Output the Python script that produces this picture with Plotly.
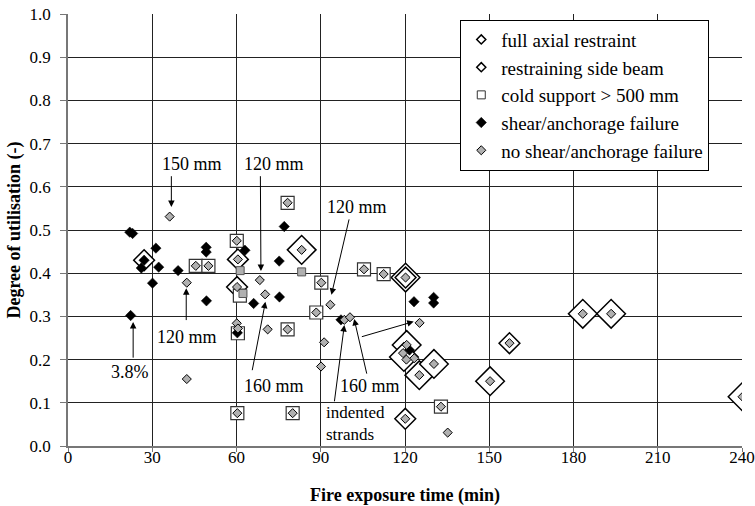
import plotly.graph_objects as go

# ---------------- data (fire exposure time in min, degree of utilisation) ----------------
full_x = [83.2, 120.2, 120.6, 119.6, 125.1, 130.3, 150.3, 183.3, 193.4, 240.2]
full_y = [0.454, 0.390, 0.234, 0.206, 0.164, 0.190, 0.150, 0.306, 0.306, 0.114]

side_x = [27.1, 60.5, 60.2, 120.2, 120.1, 157.2]
side_y = [0.430, 0.432, 0.368, 0.390, 0.063, 0.238]

cold_x = [45.5, 50.0, 60.1, 61.2, 60.5, 60.3, 78.2, 78.2, 80.0, 90.2, 88.4, 105.4, 112.4, 132.8]
cold_y = [0.417, 0.417, 0.475, 0.348, 0.261, 0.076, 0.563, 0.270, 0.076, 0.378, 0.309, 0.409, 0.398, 0.091]

grey_sq_x = [61.3, 62.3, 83.2]
grey_sq_y = [0.406, 0.353, 0.403]

shear_x = [22.0, 23.0, 31.3, 27.1, 26.1, 32.3, 30.1, 22.3, 39.2, 49.2, 49.2, 49.3,
           63.0, 66.1, 60.3, 75.2, 75.3, 77.0, 97.2, 121.6, 123.2, 130.2, 130.2]
shear_y = [0.495, 0.492, 0.458, 0.430, 0.412, 0.414, 0.377, 0.302, 0.406, 0.460, 0.449, 0.336,
           0.453, 0.330, 0.262, 0.428, 0.345, 0.508, 0.292, 0.222, 0.334, 0.344, 0.331]

noshear_x = [36.2, 45.5, 50.0, 42.3, 42.3, 60.1, 60.5, 60.2, 60.1, 60.5, 60.3, 68.3, 70.2,
             71.1, 78.2, 78.2, 80.0, 83.2, 90.2, 88.4, 93.4, 98.4, 100.4, 91.2, 90.1, 105.4,
             112.4, 120.2, 125.2, 120.6, 119.3, 123.3, 120.5, 125.1, 130.3, 132.8, 135.2,
             120.1, 183.3, 193.4, 157.2, 150.3, 240.2]
noshear_y = [0.531, 0.417, 0.417, 0.378, 0.155, 0.475, 0.432, 0.368, 0.284, 0.272, 0.076, 0.384, 0.351,
             0.270, 0.563, 0.270, 0.076, 0.454, 0.378, 0.309, 0.327, 0.292, 0.298, 0.240, 0.184, 0.409,
             0.398, 0.390, 0.285, 0.234, 0.215, 0.203, 0.200, 0.164, 0.190, 0.091, 0.031,
             0.063, 0.306, 0.306, 0.238, 0.150, 0.114]

legend_names = ["full axial restraint", "restraining side beam", "cold support > 500 mm",
                "shear/anchorage failure", "no shear/anchorage failure"]

x_ticks = [0, 30, 60, 90, 120, 150, 180, 210, 240]
y_ticks = [0.0, 0.1, 0.2, 0.3, 0.4, 0.5, 0.6, 0.7, 0.8, 0.9, 1.0]

# annotations: (text, x, y, xanchor, size)
labels = [
    ("150 mm", 44.2, 0.653, "center", 18),
    ("120 mm", 73.5, 0.653, "center", 18),
    ("120 mm", 102.9, 0.554, "center", 18),
    ("120 mm", 42.4, 0.253, "center", 18),
    ("3.8%", 22.1, 0.172, "center", 18),
    ("160 mm", 73.2, 0.140, "center", 18),
    ("160 mm", 107.4, 0.140, "center", 18),
    ("indented<br>strands", 91.0, 0.051, "left", 17),
]
# arrows: (tail x, tail y, head x, head y)
arrows = [
    (36.8, 0.628, 36.8, 0.553),
    (68.5, 0.628, 68.7, 0.405),
    (100.2, 0.528, 93.8, 0.350),
    (42.1, 0.288, 42.1, 0.365),
    (23.2, 0.201, 23.2, 0.287),
    (65.5, 0.172, 70.3, 0.334),
    (106.5, 0.164, 101.9, 0.294),
    (104.1, 0.252, 123.1, 0.288),
    (94.8, 0.100, 98.4, 0.280),
]

FONT = "Liberation Serif, Times New Roman, DejaVu Serif, serif"
GREY = "#b0b0b0"

fig = go.Figure()

# data traces (drawn back to front)
fig.add_trace(go.Scatter(x=full_x, y=full_y, mode="markers", showlegend=False, hoverinfo="skip",
                         marker=dict(symbol="diamond", size=22, color="white",
                                     line=dict(color="black", width=1.5))))
fig.add_trace(go.Scatter(x=side_x, y=side_y, mode="markers", showlegend=False, hoverinfo="skip",
                         marker=dict(symbol="diamond", size=16, color="white",
                                     line=dict(color="black", width=1.5))))
fig.add_trace(go.Scatter(x=cold_x, y=cold_y, mode="markers", showlegend=False, hoverinfo="skip",
                         marker=dict(symbol="square", size=13, color="white",
                                     line=dict(color="#333333", width=1.2))))
fig.add_trace(go.Scatter(x=grey_sq_x, y=grey_sq_y, mode="markers", showlegend=False, hoverinfo="skip",
                         marker=dict(symbol="square", size=8, color=GREY,
                                     line=dict(color="#555555", width=1))))
fig.add_trace(go.Scatter(x=shear_x, y=shear_y, mode="markers", showlegend=False, hoverinfo="skip",
                         marker=dict(symbol="diamond", size=8, color="black",
                                     line=dict(color="black", width=0.5))))
fig.add_trace(go.Scatter(x=noshear_x, y=noshear_y, mode="markers", showlegend=False, hoverinfo="skip",
                         marker=dict(symbol="diamond", size=7, color=GREY,
                                     line=dict(color="black", width=1))))

# legend entries
legend_markers = [
    dict(symbol="diamond", size=7, color="white", line=dict(color="black", width=1.5)),
    dict(symbol="diamond", size=7, color="white", line=dict(color="black", width=1.5)),
    dict(symbol="square", size=8, color="white", line=dict(color="#333333", width=1)),
    dict(symbol="diamond", size=8, color="black", line=dict(color="black", width=0.5)),
    dict(symbol="diamond", size=7, color=GREY, line=dict(color="black", width=1)),
]
for name, mk in zip(legend_names, legend_markers):
    fig.add_trace(go.Scatter(x=[None], y=[None], mode="markers", name=name, marker=mk))

annotations = []
for txt, x, y, xa, sz in labels:
    annotations.append(dict(text=txt, x=x, y=y, xref="x", yref="y", showarrow=False,
                            xanchor=xa, yanchor="middle", align="left",
                            font=dict(family=FONT, size=sz, color="black")))
for tx, ty, hx, hy in arrows:
    annotations.append(dict(text="", x=hx, y=hy, ax=tx, ay=ty, xref="x", yref="y",
                            axref="x", ayref="y", showarrow=True, arrowhead=2,
                            arrowsize=1.3, arrowwidth=1, arrowcolor="black", standoff=0))

fig.update_layout(
    width=755, height=506,
    margin=dict(l=68, r=13, t=14, b=60, autoexpand=False),
    paper_bgcolor="white", plot_bgcolor="white",
    font=dict(family=FONT, size=17, color="black"),
    annotations=annotations,
    hovermode=False,
    legend=dict(x=0.582, y=0.987, xanchor="left", yanchor="top",
                bgcolor="white", bordercolor="black", borderwidth=1,
                font=dict(family=FONT, size=19, color="black"),
                itemsizing="trace"),
)
fig.update_xaxes(range=[0, 240], tickvals=x_ticks, ticktext=[str(v) for v in x_ticks],
                 automargin=False, ticklabeloverflow="allow",
                 showgrid=True, gridcolor="#222222", gridwidth=1,
                 showline=True, linecolor="#777777", linewidth=1.5,
                 ticks="outside", ticklen=4, tickcolor="#777777", ticklabelstandoff=-9,
                 zeroline=False,
                 title=dict(text="<b>Fire exposure time (min)</b>", standoff=34,
                            font=dict(family=FONT, size=18)))
fig.update_yaxes(range=[0, 1.0], tickvals=y_ticks, ticktext=[f"{v:.1f}" for v in y_ticks],
                 automargin=False, ticklabeloverflow="allow",
                 showgrid=True, gridcolor="#222222", gridwidth=1,
                 showline=True, linecolor="#777777", linewidth=1.5,
                 ticks="outside", ticklen=6, tickcolor="#777777", ticklabelstandoff=6,
                 zeroline=False,
                 title=dict(text="<b>Degree of utilisation (-)</b>", standoff=4,
                            font=dict(family=FONT, size=18)))

# remove the browser's default page margin so the figure fills the window exactly
fig.write_html("out.html", config={"displayModeBar": False},
               post_script="document.body.style.margin='0';")
